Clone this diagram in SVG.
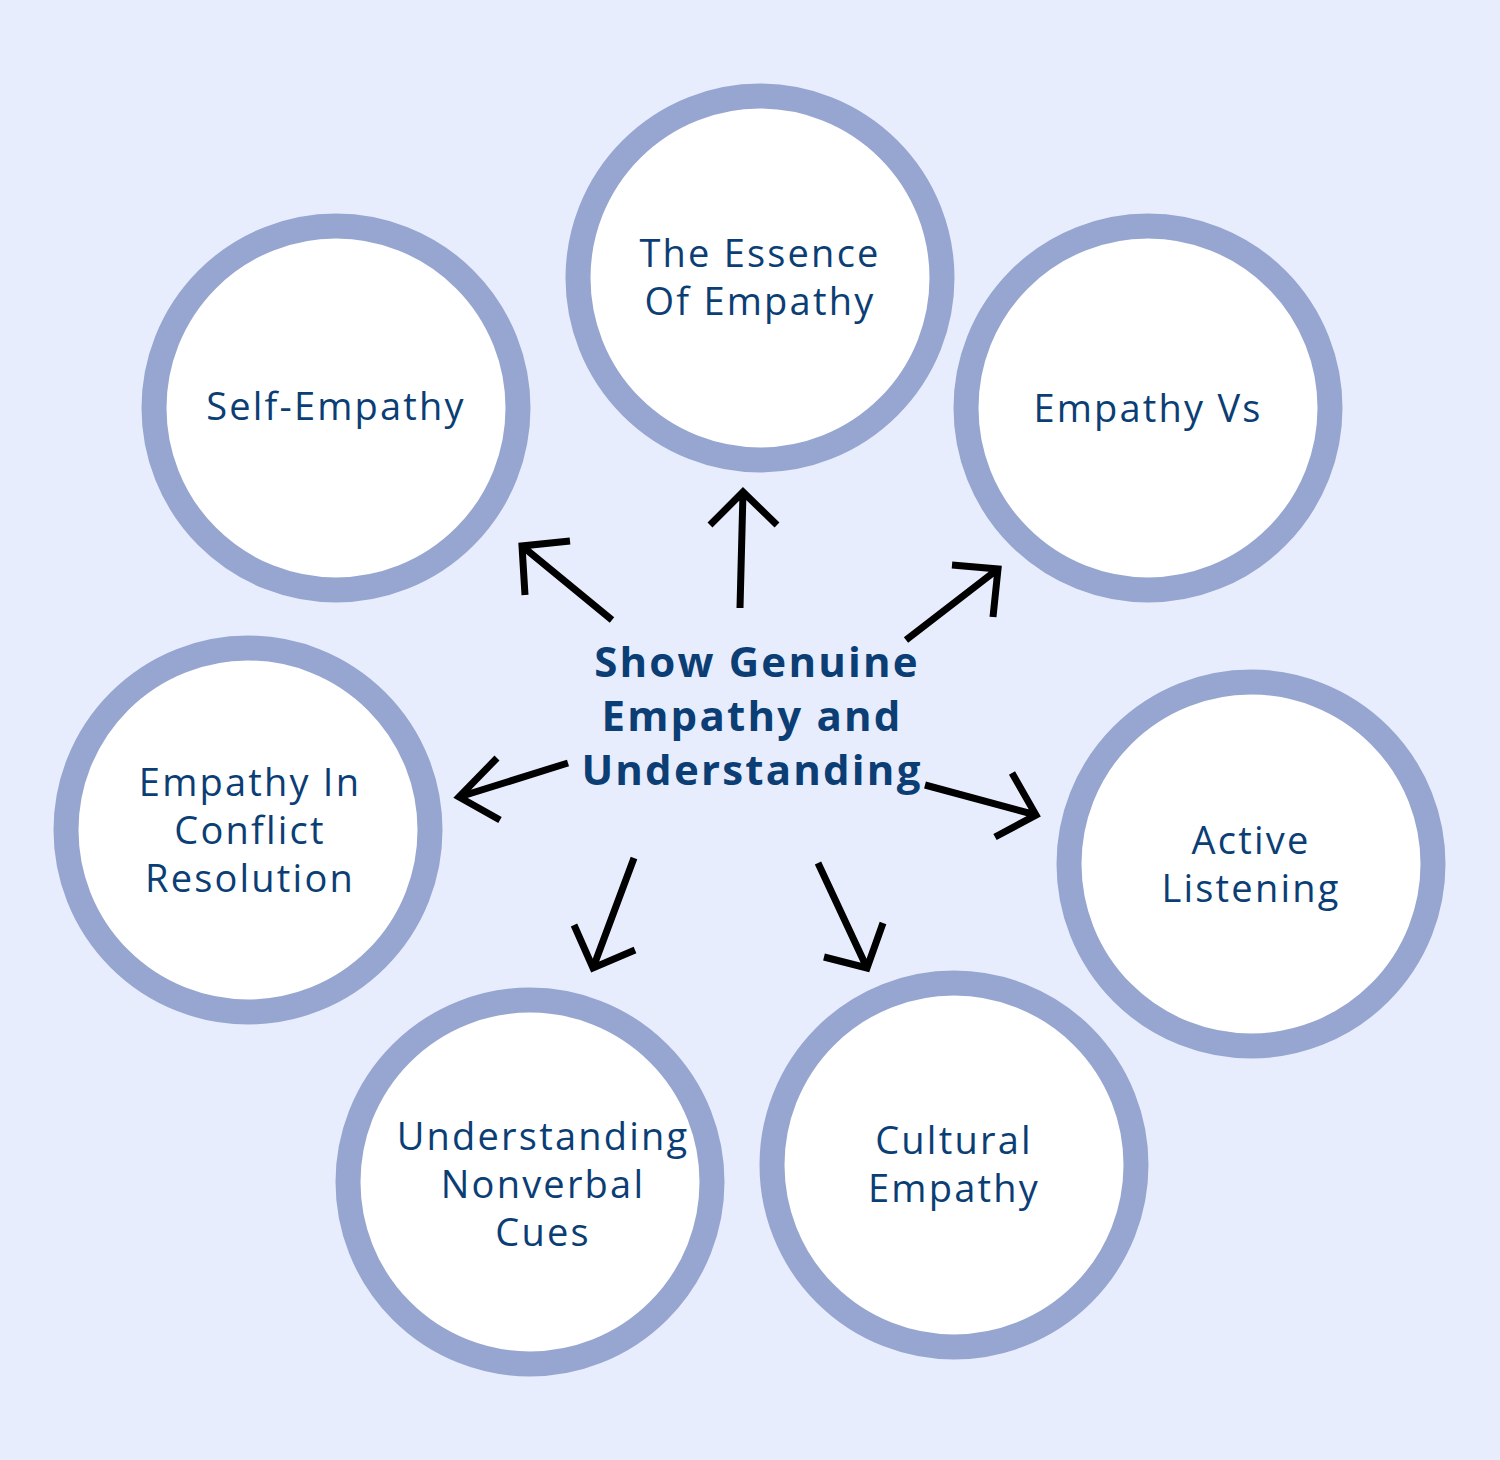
<svg xmlns="http://www.w3.org/2000/svg" width="1500" height="1460" viewBox="0 0 1500 1460">
<style>
.c{fill:#fff;stroke:#97A6D0;stroke-width:25}
.t{font-family:"Open Sans","Noto Sans",sans-serif;font-size:38px;letter-spacing:2.2px;fill:#0B3E74;text-anchor:middle}
.b{font-weight:bold;font-size:42px;letter-spacing:2.2px}
.a{fill:none;stroke:#000;stroke-width:7;stroke-linecap:butt;stroke-linejoin:miter}
</style>
<rect width="1500" height="1460" fill="#E8EDFD"/>
<g id="essence"><circle class="c" cx="760" cy="278" r="182"/><text class="t" x="760" y="267">The Essence</text><text class="t" x="760" y="315">Of Empathy</text></g>
<g id="self"><circle class="c" cx="336" cy="408" r="182"/><text class="t" x="336" y="420">Self-Empathy</text></g>
<g id="vs"><circle class="c" cx="1148" cy="408" r="182"/><text class="t" x="1148" y="422">Empathy Vs</text></g>
<g id="conflict"><circle class="c" cx="248" cy="830" r="182"/><text class="t" x="250" y="796">Empathy In</text><text class="t" x="250" y="844">Conflict</text><text class="t" x="250" y="892">Resolution</text></g>
<g id="active"><circle class="c" cx="1251" cy="864" r="182"/><text class="t" x="1251" y="854">Active</text><text class="t" x="1251" y="902">Listening</text></g>
<g id="nonverbal"><circle class="c" cx="530" cy="1182" r="182"/><text class="t" x="543" y="1150">Understanding</text><text class="t" x="543" y="1198">Nonverbal</text><text class="t" x="543" y="1246">Cues</text></g>
<g id="cultural"><circle class="c" cx="954" cy="1165" r="182"/><text class="t" x="954" y="1154">Cultural</text><text class="t" x="954" y="1202">Empathy</text></g>
<g id="center"><text class="t b" x="757" y="677">Show Genuine</text><text class="t b" x="752" y="731">Empathy and</text><text class="t b" x="752" y="785">Understanding</text></g>
<g id="connectors">
<path class="a" d="M740 608L743 492M710 525L743 492L777 525"/>
<path class="a" d="M612 620L522 546M525 595L522 546L570 541"/>
<path class="a" d="M906 640L998 569M952 565L998 569L993 617"/>
<path class="a" d="M568 763L459 797M497 758L459 797L500 820"/>
<path class="a" d="M925 785L1036 815M1012 773L1036 815L995 837"/>
<path class="a" d="M634 858L593 968M574 925L593 968L635 950"/>
<path class="a" d="M818 863L867 968M824 957L867 968L883 923"/>
</g>
</svg>
